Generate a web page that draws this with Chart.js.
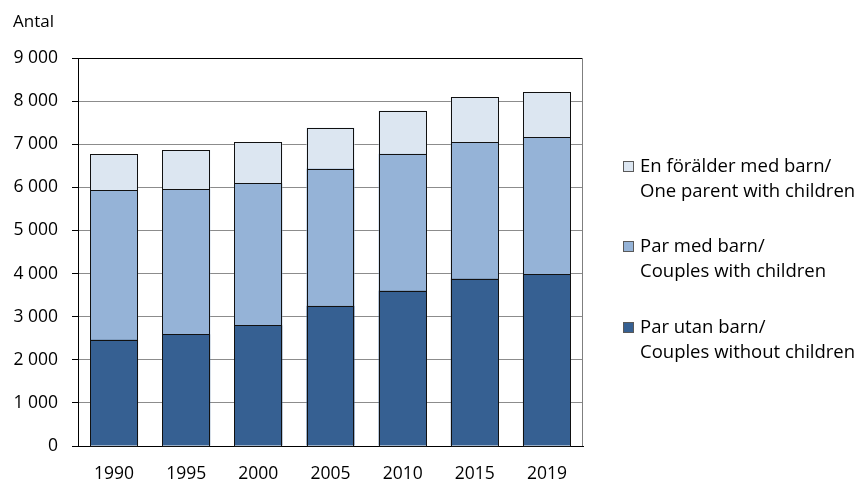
<!DOCTYPE html>
<html>
<head>
<meta charset="utf-8">
<script src="https://cdn.jsdelivr.net/npm/chart.js@4"></script>
<style>
  html, body { margin: 0; padding: 0; background: #fff; }
  #wrap { width: 857px; height: 481px; position: relative; }
</style>
</head>
<body>
<div id="wrap"><canvas id="c" width="857" height="481"></canvas></div>
<script>
const categories = ["1990", "1995", "2000", "2005", "2010", "2015", "2019"];
const parUtanBarn = [2470, 2590, 2800, 3255, 3605, 3885, 3985];
const parMedBarn = [3465, 3370, 3295, 3180, 3175, 3160, 3185];
const enForalder = [830, 905, 945, 945, 995, 1045, 1030];
const seriesLabels = [
  ["Par utan barn/", "Couples without children"],
  ["Par med barn/", "Couples with children"],
  ["En förälder med barn/", "One parent with children"]
];
const yTitle = "Antal";

const FONT = "'Open Sans', 'Liberation Sans', sans-serif";

function fmt(v) {
  return String(v).replace(/\B(?=(\d{3})+(?!\d))/g, " ");
}

const outlines = {
  id: 'outlines',
  afterDatasetsDraw(chart) {
    const ctx = chart.ctx;
    ctx.save();
    ctx.lineWidth = 1;
    ctx.strokeStyle = '#111';
    chart.data.datasets.forEach((d, i) => {
      const meta = chart.getDatasetMeta(i);
      meta.data.forEach(el => {
        const l = Math.round(el.x - el.width / 2) + 0.5;
        const r = Math.round(el.x + el.width / 2) - 0.5;
        const t = Math.round(el.y) + 0.5;
        const b = Math.round(el.base) + 0.5;
        ctx.strokeRect(l, t, r - l, b - t);
      });
    });
    ctx.restore();
  }
};

const extras = {
  id: 'extras',
  afterDraw(chart) {
    const ctx = chart.ctx;
    const a = chart.chartArea;
    ctx.save();
    ctx.lineWidth = 1;
    ctx.strokeStyle = '#000';
    ctx.beginPath();
    ctx.moveTo(a.left, Math.round(a.top) + 0.5);
    ctx.lineTo(a.right, Math.round(a.top) + 0.5);
    ctx.stroke();
    ctx.strokeStyle = '#7f7f7f';
    ctx.beginPath();
    ctx.moveTo(Math.round(a.right) - 0.5, a.top);
    ctx.lineTo(Math.round(a.right) - 0.5, a.bottom);
    ctx.stroke();
    ctx.fillStyle = '#000';
    ctx.font = "17px " + FONT;
    ctx.textBaseline = 'middle';
    ctx.textAlign = 'left';
    ctx.fillText(yTitle, 13, 22);
    const ds = chart.data.datasets;
    const tops = [167, 247, 328];
    ctx.font = "18.5px " + FONT;
    for (let i = 0; i < ds.length; i++) {
      const d = ds[ds.length - 1 - i];
      const y = tops[i];
      ctx.fillStyle = d.backgroundColor;
      ctx.fillRect(623, y - 6, 11, 11);
      ctx.strokeStyle = '#595959';
      ctx.strokeRect(623.5, y - 5.5, 10, 10);
      ctx.fillStyle = '#000';
      ctx.fillText(d.label[0], 640, y);
      ctx.fillText(d.label[1], 640, y + 25);
    }
    ctx.restore();
  }
};

new Chart(document.getElementById('c'), {
  type: 'bar',
  data: {
    labels: categories,
    datasets: [
      { label: seriesLabels[0], data: parUtanBarn, backgroundColor: '#366092' },
      { label: seriesLabels[1], data: parMedBarn, backgroundColor: '#95b3d7' },
      { label: seriesLabels[2], data: enForalder, backgroundColor: '#dce6f1' }
    ].map(d => Object.assign(d, {
      borderWidth: 0, barPercentage: 0.665, categoryPercentage: 1
    }))
  },
  options: {
    responsive: false,
    animation: false,
    layout: { padding: { top: 58, right: 274, left: 0, bottom: 0 } },
    plugins: { legend: { display: false }, tooltip: { enabled: false }, title: { display: false } },
    scales: {
      x: {
        stacked: true,
        grid: { display: false },
        border: { display: true, color: '#000', width: 1 },
        ticks: { color: '#000', font: { family: FONT, size: 17.5 }, padding: 10 },
        afterFit(s) { s.height = 35; }
      },
      y: {
        stacked: true,
        min: 0, max: 9000,
        grid: { color: '#8c8c8c', lineWidth: 1, tickLength: 6, tickColor: '#000' },
        border: { display: true, color: '#000', width: 1 },
        ticks: { stepSize: 1000, color: '#000', font: { family: FONT, size: 17.5 }, padding: 14,
          callback: v => fmt(v) },
        afterFit(s) { s.width = 78; }
      }
    }
  },
  plugins: [outlines, extras]
});
</script>
</body>
</html>
